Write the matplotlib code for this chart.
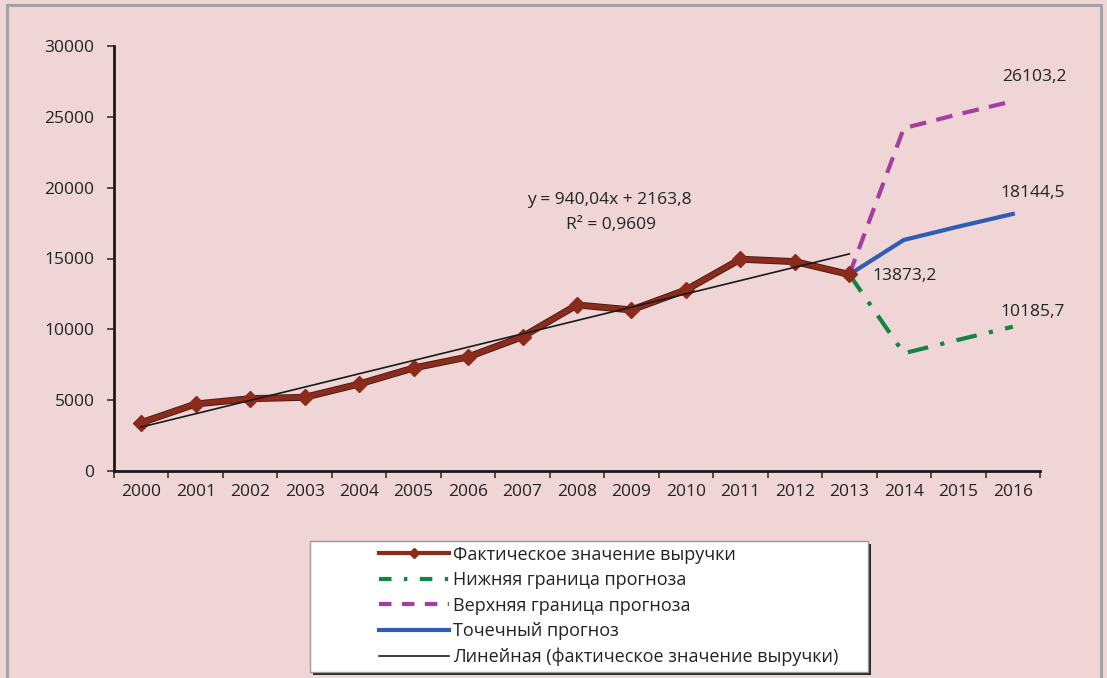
import numpy as np
import matplotlib
matplotlib.use("Agg")
import matplotlib.pyplot as plt
from matplotlib.patches import Rectangle
from matplotlib.lines import Line2D

plt.rcParams['font.family'] = ['Open Sans', 'DejaVu Sans']

years = [str(y) for y in range(2000, 2017)]
actual = [3410, 4730, 5105, 5200, 6140, 7270, 8050, 9480, 11720, 11370, 12780, 14950, 14780, 13873.2]
forecast_years = ['2013', '2014', '2015', '2016']
lower = [13873.2, 8310, 9260, 10185.7]
upper = [13873.2, 24200, 25180, 26103.2]
point = [13873.2, 16310, 17250, 18144.5]
trend_slope, trend_intercept = 940.04, 2163.8

labels_legend = ["Фактическое значение выручки", "Нижняя граница прогноза",
                 "Верхняя граница прогноза", "Точечный прогноз",
                 "Линейная (фактическое значение выручки)"]

bg = '#F0D5D6'
c_act = '#8C2B1B'
c_low = '#14853F'
c_up = '#A43FA0'
c_pt = '#2F5DB5'

fig = plt.figure(figsize=(11.07, 6.78), dpi=100, facecolor=bg)
ax = fig.add_axes([114/1107, 1-471/678, (1040-114)/1107, (471-46)/678])
ax.set_facecolor(bg)

xi = {y: i for i, y in enumerate(years)}
xa = np.arange(len(actual))
xf = [xi[y] for y in forecast_years]

xt = np.arange(1, len(actual) + 1)
trend = trend_slope * xt + trend_intercept

ax.plot(xf, lower, color=c_low, lw=3, dashes=(5, 3, 1, 3), zorder=2)
ax.plot(xf, upper, color=c_up, lw=3, dashes=(4, 2.5), zorder=2)
ax.plot(xf, point, color=c_pt, lw=3, zorder=2)
# thin dark shadow line of the actual series
ax.plot(xa, actual, color='#3a1a14', lw=5, zorder=3, solid_capstyle='round')
ax.plot(xa, actual, color=c_act, lw=3.8, marker='D', ms=8, mec=c_act, mew=1, zorder=4)
ax.plot(xa, trend, color='#1a1a1a', lw=1.2, zorder=5)

ax.set_xlim(-0.5, len(years) - 0.5)
ax.set_ylim(0, 30000)
ax.set_yticks(np.arange(0, 30001, 5000))
ax.set_xticks(np.arange(-0.5, len(years), 1))
ax.set_xticklabels([])
ax.set_xticks(np.arange(len(years)), minor=True)
ax.set_xticklabels(years, minor=True)
ax.tick_params(axis='x', which='major', length=5, width=1.2, color='#333333')
ax.tick_params(axis='x', which='minor', length=0, pad=9, labelsize=12.5, labelcolor='#222222')
ax.tick_params(axis='y', length=5, width=1.2, color='#333333', labelsize=12.5, labelcolor='#222222', pad=9)
for s in ['top', 'right']:
    ax.spines[s].set_visible(False)
for s in ['left', 'bottom']:
    ax.spines[s].set_linewidth(2)
    ax.spines[s].set_color('#1a1a1a')

ax.text(8.59, 19130, "y = 940,04x + 2163,8", ha='center', va='center', fontsize=12.5, color='#222222')
ax.text(8.62, 17370, "R² = 0,9609", ha='center', va='center', fontsize=12.5, color='#222222')

ax.text(16.39, 27820, "26103,2", ha='center', va='center', fontsize=12.5, color='#222222')
ax.text(16.37, 19630, "18144,5", ha='center', va='center', fontsize=12.5, color='#222222')
ax.text(14.02, 13770, "13873,2", ha='center', va='center', fontsize=12.5, color='#222222')
ax.text(16.37, 11230, "10185,7", ha='center', va='center', fontsize=12.5, color='#222222')

# outer border
W, H = 1107, 678
fig.add_artist(Rectangle((7/W, -0.02), (1101-7)/W, 1.02 - 5/H, transform=fig.transFigure,
                         fill=False, edgecolor='#A3A3A3', lw=2.2))

# legend box with shadow
lx0, lx1, ly0, ly1 = 310, 868, 541, 672
fig.add_artist(Rectangle(((lx0+3)/W, 1-(ly1+3)/H), (lx1-lx0)/W, (ly1-ly0)/H, transform=fig.transFigure,
                         facecolor='#2a2a2a', edgecolor='none', zorder=5))
fig.add_artist(Rectangle((lx0/W, 1-ly1/H), (lx1-lx0)/W, (ly1-ly0)/H, transform=fig.transFigure,
                         facecolor='white', edgecolor='#9a9a9a', lw=1, zorder=6))

handles = [
    Line2D([], [], color=c_act, lw=3, marker='D', ms=5.5),
    Line2D([], [], color=c_low, lw=3, dashes=(3, 3, 0.8, 3)),
    Line2D([], [], color=c_up, lw=3, dashes=(3, 2.5)),
    Line2D([], [], color=c_pt, lw=3),
    Line2D([], [], color='#1a1a1a', lw=1.2),
]
leg = fig.legend(handles, labels_legend, loc='upper left', bbox_to_anchor=(366/W, 1-533/H),
                 frameon=False, fontsize=13, handlelength=3.9, handletextpad=0.2,
                 labelspacing=0.42, borderpad=0.2, markerscale=1)
leg.set_zorder(7)
for t in leg.get_texts():
    t.set_color('#222222')

fig.savefig('out.png', dpi=100, facecolor=bg)
